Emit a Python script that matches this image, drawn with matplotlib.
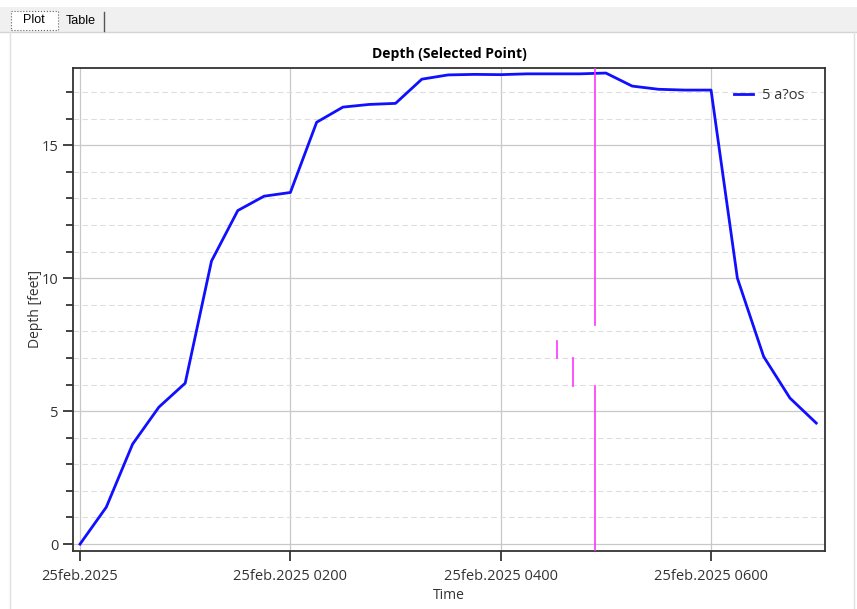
import numpy as np
import pandas as pd
import matplotlib
matplotlib.use("Agg")
import matplotlib.pyplot as plt
from matplotlib.patches import Rectangle
from matplotlib.lines import Line2D

plt.rcParams['font.family'] = ['Open Sans', 'DejaVu Sans']

# depth every 15 minutes from 25feb.2025 0000
depth = [0.0, 1.39, 3.76, 5.15, 6.05, 10.64, 12.54, 13.08, 13.22, 15.86,
         16.43, 16.53, 16.57, 17.48, 17.64, 17.66, 17.65, 17.68, 17.68,
         17.68, 17.71, 17.22, 17.1, 17.07, 17.07, 10.0, 7.05, 5.49, 4.55]
times = pd.date_range('2025-02-25 00:00', periods=len(depth), freq='15min')
series_label = '5 a?os'

tick_times = pd.to_datetime(['2025-02-25 00:00', '2025-02-25 02:00',
                             '2025-02-25 04:00', '2025-02-25 06:00'])
tick_labels = ['25feb.2025', '25feb.2025 0200', '25feb.2025 0400', '25feb.2025 0600']

# selected time marker (magenta) and its little stubs
marker_time = pd.Timestamp('2025-02-25 04:54')
marker_gap = (5.94, 8.23)
stub_times = pd.to_datetime(['2025-02-25 04:32', '2025-02-25 04:41'])
stub_ranges = [(6.99, 7.63), (5.94, 6.99)]

fig = plt.figure(figsize=(8.57, 6.09), dpi=100)

# window chrome: tab strip
fig.patches.append(Rectangle((0, 1 - 32 / 609), 1, 25 / 609, transform=fig.transFigure,
                             facecolor='#f0f0f0', edgecolor='none'))
fig.add_artist(Line2D([0, 1], [1 - 32 / 609] * 2, transform=fig.transFigure, color='#d4d4d4', lw=1))
fig.add_artist(Line2D([10 / 857] * 2, [0, 1 - 32 / 609], transform=fig.transFigure, color='#e0e0e0', lw=1))
fig.add_artist(Line2D([854 / 857] * 2, [0, 1 - 32 / 609], transform=fig.transFigure, color='#e0e0e0', lw=1))
fig.patches.append(Rectangle((11 / 857, 1 - 30 / 609), 47 / 857, 19 / 609, transform=fig.transFigure,
                             facecolor='white', edgecolor='#666666', lw=0.8, linestyle=':'))
fig.add_artist(Line2D([104 / 857] * 2, [1 - 31 / 609, 1 - 12 / 609], transform=fig.transFigure,
                      color='#555555', lw=1))
fig.text(34 / 857, 1 - 20 / 609, 'Plot', ha='center', va='center', fontsize=9, family='Liberation Sans')
fig.text(81 / 857, 1 - 21 / 609, 'Table', ha='center', va='center', fontsize=9, family='Liberation Sans')

ax = fig.add_axes([73 / 857, 1 - 551 / 609, (825 - 73) / 857, (551 - 68) / 609])

ax.plot(times, depth, color='#1010ff', lw=2, label=series_label, zorder=3)

ax.plot([marker_time, marker_time], [-0.3, marker_gap[0]], color='#ff33ff', lw=1.2, zorder=4)
ax.plot([marker_time, marker_time], [marker_gap[1], 18], color='#ff33ff', lw=1.2, zorder=4)
for t, (y0, y1) in zip(stub_times, stub_ranges):
    ax.plot([t, t], [y0, y1], color='#ff33ff', lw=1.2, zorder=4)

ax.set_xlim(pd.Timestamp('2025-02-24 23:56'), pd.Timestamp('2025-02-25 07:05'))
ax.set_ylim(-0.26, 17.9)

ax.set_xticks(tick_times)
ax.set_xticklabels(tick_labels)
ax.set_yticks([0, 5, 10, 15])
ax.yaxis.set_minor_locator(matplotlib.ticker.MultipleLocator(1))

ax.grid(which='major', color='#c8c8c8', lw=0.9)
ax.grid(which='minor', axis='y', color='#dedede', lw=0.8, linestyle=(0, (5, 3)))
ax.set_axisbelow(True)

for s in ax.spines.values():
    s.set_color('#333333')
    s.set_linewidth(1.3)
ax.tick_params(which='major', colors='#222222', labelcolor='#333333', labelsize=10.5, length=7, width=1.2)
ax.tick_params(which='minor', colors='#222222', length=5, width=1.2)
ax.tick_params(axis='x', pad=6)

ax.set_title('Depth (Selected Point)', fontsize=10, fontweight='bold', pad=7)
ax.set_xlabel('Time', fontsize=10, color='#333333', labelpad=3)
ax.set_ylabel('Depth [feet]', fontsize=10, color='#333333')
ax.yaxis.set_label_coords(-0.04, 0.5)

ax.legend(loc='upper right', frameon=False, fontsize=10.5, handlelength=1.3,
          handletextpad=0.6, borderaxespad=1.0, labelcolor='#333333')

fig.savefig('out.png', dpi=100)
